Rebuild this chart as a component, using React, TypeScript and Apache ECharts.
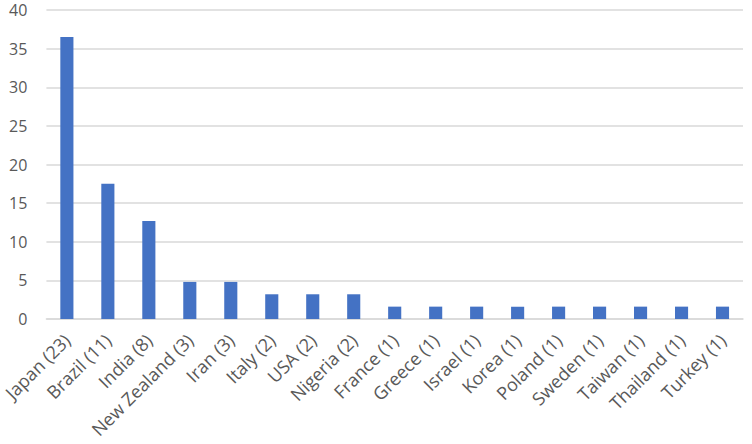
import React, { useEffect, useRef } from "react";
import * as echarts from "echarts";

const categories = [
  "Japan (23)", "Brazil (11)", "India (8)", "New Zealand (3)", "Iran (3)", "Italy (2)",
  "USA (2)", "Nigeria (2)", "France (1)", "Greece (1)", "Israel (1)", "Korea (1)",
  "Poland (1)", "Sweden (1)", "Taiwan (1)", "Thailand (1)", "Turkey (1)",
];
const values = [
  36.5, 17.5, 12.7, 4.8, 4.8, 3.2, 3.2, 3.2, 1.6, 1.6, 1.6, 1.6, 1.6, 1.6, 1.6, 1.6, 1.6,
];
const yTicks = { min: 0, max: 40, interval: 5 };

export default function App() {
  const ref = useRef<HTMLDivElement>(null);
  useEffect(() => {
    if (!ref.current) return;
    const chart = echarts.init(ref.current, undefined, { renderer: "svg" });
    chart.setOption({
      animation: false,
      grid: { left: 42, right: 9, top: 10, bottom: 125, containLabel: false },
      xAxis: {
        type: "category",
        data: categories,
        axisLine: { lineStyle: { color: "#d9d9d9", width: 1.5 } },
        axisTick: { show: false },
        axisLabel: {
          rotate: 45,
          interval: 0,
          color: "#595959",
          fontSize: 18,
          fontFamily: "Open Sans",
          margin: 18,
        },
      },
      yAxis: {
        type: "value",
        min: yTicks.min,
        max: yTicks.max,
        interval: yTicks.interval,
        axisLine: { show: false },
        axisTick: { show: false },
        splitLine: { lineStyle: { color: "#d9d9d9", width: 1.5 } },
        axisLabel: {
          color: "#595959",
          fontSize: 16,
          lineHeight: 16,
          fontFamily: "Open Sans",
          margin: 19,
        },
      },
      series: [
        {
          type: "bar",
          data: values,
          barWidth: "32%",
          itemStyle: { color: "#4472C4" },
        },
      ],
    });
    return () => chart.dispose();
  }, []);
  return (
    <div
      ref={ref}
      style={{ position: "absolute", left: 0, top: 0, width: 752, height: 444 }}
    />
  );
}
